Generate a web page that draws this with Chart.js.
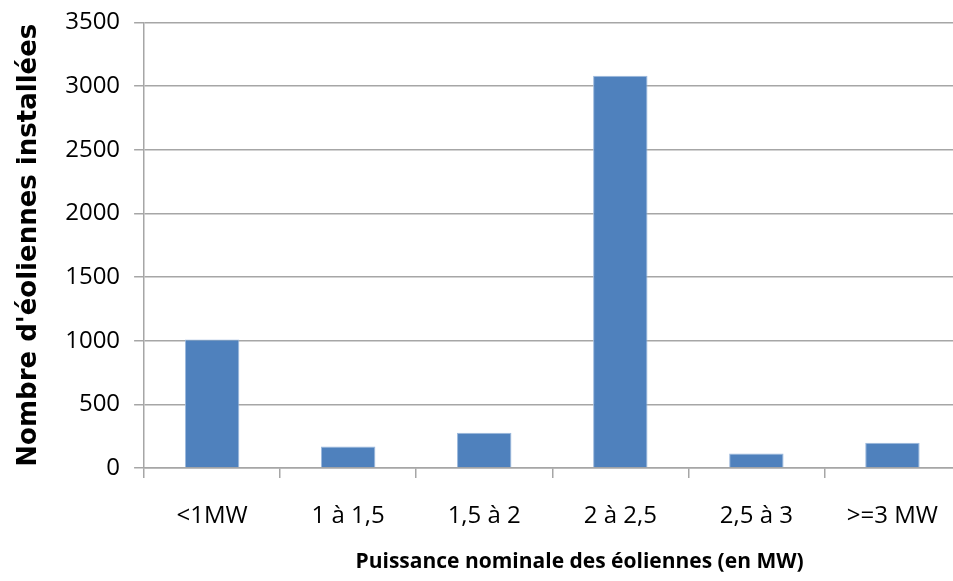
<!DOCTYPE html>
<html lang="fr">
	<head>
		<meta charset="UTF-8" />
		<title>Nombre d'éoliennes installées</title>
		<style>
			html, body { margin: 0; padding: 0; background: #fff; overflow: hidden; }
			#wrap { width: 953px; height: 581px; overflow: hidden; }
			#box { width: 962px; height: 590px; margin-top: -6px; }
		</style>
	</head>
	<body>
		<div id="wrap"><div id="box"><canvas id="myChart"></canvas></div></div>

		<script src="https://cdn.jsdelivr.net/npm/chart.js@4.4.0/dist/chart.umd.min.js"></script>
		<script>
			// Data
			var categories = ["<1MW", "1 à 1,5", "1,5 à 2", "2 à 2,5", "2,5 à 3", ">=3 MW"];
			var eoliennes = [1010, 168, 277, 3081, 113, 199];
			var yTicks = [0, 500, 1000, 1500, 2000, 2500, 3000, 3500];

			var sans = "'Open Sans', sans-serif";
			var gridColor = "#a6a6a6";

			var ctx = document.getElementById("myChart").getContext("2d");
			var chart = new Chart(ctx, {
				type: "bar",
				data: {
					labels: categories,
					datasets: [
						{
							label: "Nombre d'éoliennes",
							data: eoliennes,
							backgroundColor: "#4f81bd",
							borderColor: "#9cb9dd",
							borderWidth: 1,
							categoryPercentage: 0.8,
							barPercentage: 0.5,
						},
					],
				},
				options: {
					responsive: true,
					maintainAspectRatio: false,
					animation: false,
					layout: { padding: { top: -2, left: 10, right: 0, bottom: 5 } },
					plugins: {
						legend: { display: false },
						tooltip: { enabled: false },
					},
					scales: {
						x: {
							grid: {
								offset: true,
								drawOnChartArea: false,
								color: gridColor,
								lineWidth: 1.5,
								tickLength: 10,
							},
							border: { color: gridColor, width: 1.5 },
							ticks: {
								color: "#000",
								padding: 24,
								font: { family: sans, size: 24 },
							},
							title: {
								display: true,
								// leading spaces push the title a little right, as in the picture
								text: "\u00a0".repeat(10) + "Puissance nominale des éoliennes (en MW)",
								color: "#000",
								padding: { top: -5 },
								font: { family: sans, size: 21, weight: "bold" },
							},
						},
						y: {
							min: 0,
							max: 3500,
							afterBuildTicks: function (axis) {
								axis.ticks = yTicks.map(function (v) { return { value: v }; });
							},
							grid: {
								color: gridColor,
								lineWidth: 1.5,
								tickLength: 10,
							},
							border: { color: gridColor, width: 1.5 },
							ticks: {
								color: "#000",
								padding: 14,
								font: { family: sans, size: 24 },
								callback: function (v) { return String(v); },
							},
							title: {
								display: true,
								text: "Nombre d'éoliennes installées",
								color: "#000",
								padding: { bottom: 6 },
								font: { family: "'DejaVu Sans', sans-serif", size: 26, weight: "bold" },
							},
						},
					},
				},
			});
		</script>
	</body>
</html>
